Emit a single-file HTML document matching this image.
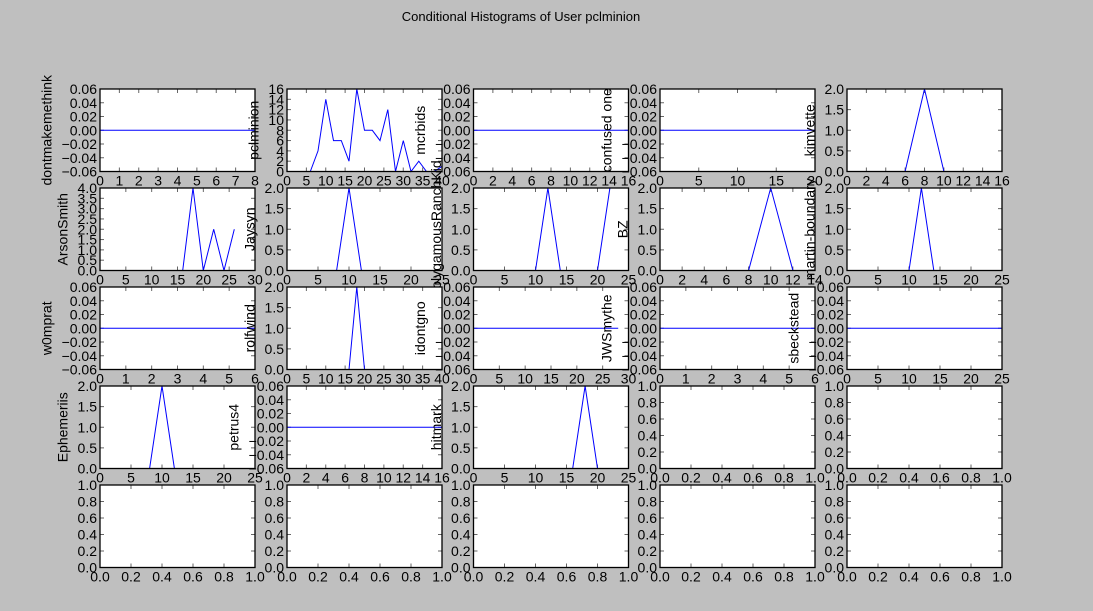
<!DOCTYPE html>
<html><head><meta charset="utf-8"><style>
html,body{margin:0;padding:0;background:#bfbfbf;}
svg{display:block;font-family:"Liberation Sans",Arial,sans-serif;}
</style></head><body>
<svg id="fig" width="1093" height="611">
<rect width="1093" height="611" fill="#bfbfbf"/>
<text x="521" y="21" font-size="13" text-anchor="middle">Conditional Histograms of User pclminion</text>
</svg>
<script>
// ---- data ----
const names=["dontmakemethink","pclminion","mcrbids","confused one","kimvette",
"ArsonSmith","Jaysyn","PolygamousRanchKid","BZ","martin-boundary",
"w0mprat","rolfwind","idontgno","JWSmythe","sbeckstead",
"Ephemeriis","petrus4","hitmark","",""];
const xMax=[8,40,16,20,16, 30,25,25,14,25, 6,40,30,6,25, 25,16,25,1,1];
const xStep=[1,5,2,5,2, 5,5,5,2,5, 1,5,5,1,5, 5,2,5,0.2,0.2];
const yKind=["z","c16","z","z","c2", "c4","c2","c2","c2","c2", "z","c2","z","z","z", "c2","z","c2","u","u"];
const seriesX=[[0,8],[0,6,8,10,12,14,16,18,20,22,24,26,28,30,32,34,36,38,40],[0,16],[0,20],[0,6,8,10,16],
[0,16,18,20,22,24,26],[0,8,10,12,25],[0,10,12,14,20,22],[0,8,10,12,14],[0,10,12,14,22],
[0,6],[0,16,18,20,40],[0,28],[0,6],[0,25],
[0,8,10,12,25],[0,16],[0,16,18,20,25],[],[]];
const seriesY=[[0,0],[0,0,4,14,6,6,2,16,8,8,6,12,0,6,0,2,0,0,1],[0,0],[0,0],[0,0,2,0,0],
[0,0,4,0,2,0,2],[0,0,2,0,0],[0,0,2,0,0,2],[0,0,2,0,0],[0,0,2,0,0],
[0,0],[0,0,2,0,0],[0,0],[0,0],[0,0],
[0,0,2,0,0],[0,0],[0,0,2,0,0],[],[]];
const yTickSets={z:["-0.06","-0.04","-0.02","0.00","0.02","0.04","0.06"],
c16:["0","2","4","6","8","10","12","14","16"],
c4:["0.0","0.5","1.0","1.5","2.0","2.5","3.0","3.5","4.0"],
c2:["0.0","0.5","1.0","1.5","2.0"],
u:["0.0","0.2","0.4","0.6","0.8","1.0"]};
// ---- layout ----
const NS="http://www.w3.org/2000/svg";
const svg=document.getElementById('fig');
const colL=[100,287,473.5,660,847], rowT=[89,188,287,386,485], W=155, H=82.5;
function mk(tag,attrs,parent){const e=document.createElementNS(NS,tag);for(const k in attrs)e.setAttribute(k,attrs[k]);(parent||svg).appendChild(e);return e;}
for(let i=0;i<25;i++){
  const r=Math.floor(i/5),c=i%5, L=colL[c], T=rowT[r];
  const g=mk('g',{});
  
  
  const xm= i<20? xMax[i]:1, xs= i<20? xStep[i]:0.2;
  const yt= yTickSets[i<20? yKind[i]:'u'];
  const y0=parseFloat(yt[0]), y1=parseFloat(yt[yt.length-1]);
  const sx=v=>L+v/xm*W, sy=v=>T+H-(v-y0)/(y1-y0)*H;
  mk('rect',{x:L,y:T,width:W,height:H,fill:'#fff'},g);
  const nx=Math.round(xm/xs);
  for(let k=0;k<=nx;k++){
    const v=k*xs, x=sx(v);
    mk('line',{x1:x,y1:T+H,x2:x,y2:T+H-4,stroke:'#666','stroke-width':1},g);
    mk('line',{x1:x,y1:T,x2:x,y2:T+4,stroke:'#666','stroke-width':1},g);
    const lab=xs<1?v.toFixed(1):String(Math.round(v));
    const t=mk('text',{x:x,y:T+H+14,'font-size':14,'text-anchor':'middle'},g);
    t.textContent=lab;
    
    
  }
  let maxw=0;
  yt.forEach(s=>{
    const v=parseFloat(s), y=sy(v);
    mk('line',{x1:L,y1:y,x2:L+4,y2:y,stroke:'#666','stroke-width':1},g);
    mk('line',{x1:L+W,y1:y,x2:L+W-4,y2:y,stroke:'#666','stroke-width':1},g);
    const t=mk('text',{x:L-3,y:y+5,'font-size':14,'text-anchor':'end'},g);
    t.textContent=s.replace('-','\u2212');
    
    
    maxw=Math.max(maxw,t.getComputedTextLength());
  });
  if(i<20 && seriesX[i].length){
    const pts=seriesX[i].map((xv,j)=>sx(xv).toFixed(1)+','+sy(seriesY[i][j]).toFixed(1)).join(' ');
    const pl=mk('polyline',{points:pts,fill:'none',stroke:'#0000ff','stroke-width':1},g);
    
    
  }
  mk('rect',{x:L,y:T,width:W,height:H,fill:'none',stroke:'#000','stroke-width':1.3},g);
  if(i<20 && names[i]){
    const cx=L-3-maxw-10, cy=T+H/2;
    const t=mk('text',{x:cx,y:cy,'font-size':14,'text-anchor':'middle',transform:'rotate(-90 '+cx+' '+cy+')'},g);
    t.textContent=names[i];
    
    
  }
}
</script>
</body></html>
